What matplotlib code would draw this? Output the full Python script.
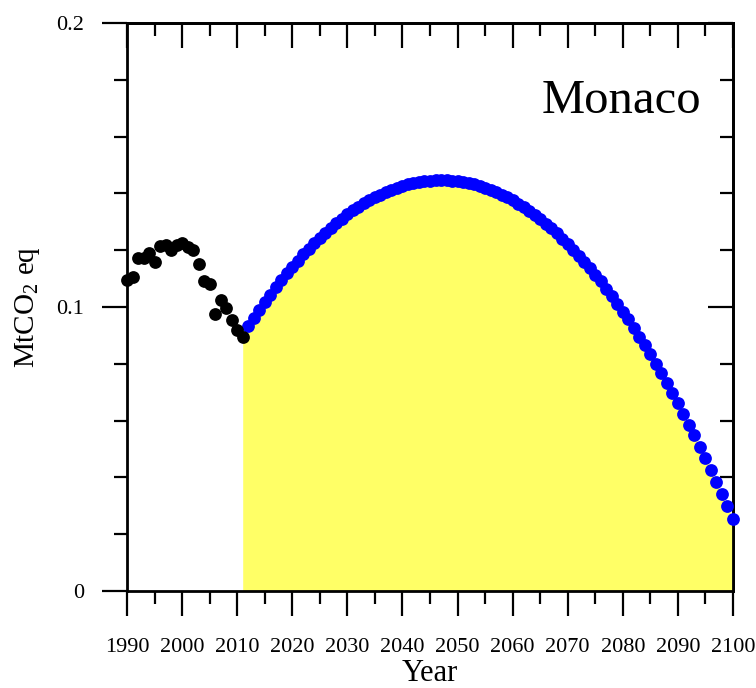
import matplotlib
matplotlib.use("Agg")
import matplotlib.pyplot as plt
from matplotlib.ticker import MultipleLocator

# Data
# ---------------------------
hist_years = list(range(1990, 2012))
hist_vals = [0.1095, 0.1106, 0.1173, 0.1173, 0.1190, 0.1160, 0.1215, 0.1220,
             0.1200, 0.1220, 0.1225, 0.1210, 0.1200, 0.1150, 0.1090, 0.1080,
             0.0975, 0.1025, 0.0996, 0.0954, 0.0920, 0.0894]

proj_years = list(range(2012, 2101))
proj_vals = [0.0933, 0.0962, 0.0990, 0.1017, 0.1043, 0.1069, 0.1094, 0.1118,
             0.1141, 0.1163, 0.1185, 0.1205, 0.1225, 0.1244, 0.1262, 0.1279,
             0.1295, 0.1311, 0.1326, 0.1340, 0.1353, 0.1365, 0.1376, 0.1387,
             0.1396, 0.1405, 0.1413, 0.1420, 0.1426, 0.1432, 0.1437, 0.1440,
             0.1443, 0.1445, 0.1447, 0.1447,
             0.1447, 0.1445, 0.1443, 0.1440, 0.1436, 0.1432, 0.1426, 0.1420,
             0.1413, 0.1405, 0.1396, 0.1386, 0.1375, 0.1364, 0.1351, 0.1338,
             0.1324, 0.1309, 0.1294, 0.1277, 0.1260, 0.1241, 0.1222, 0.1202,
             0.1181, 0.1160, 0.1137, 0.1114, 0.1090, 0.1065, 0.1039, 0.1012,
             0.0984, 0.0956, 0.0926, 0.0896, 0.0865, 0.0833, 0.0801, 0.0767,
             0.0733, 0.0697, 0.0661, 0.0624, 0.0586, 0.0548, 0.0508, 0.0468,
             0.0427, 0.0385, 0.0342, 0.0298, 0.0253]

country = "Monaco"

plt.rcParams['font.family'] = ['Liberation Serif', 'DejaVu Serif']
plt.rcParams['mathtext.fontset'] = 'custom'
plt.rcParams['mathtext.rm'] = 'Liberation Serif'

fig = plt.figure(figsize=(7.56, 6.88), dpi=100)
ax = fig.add_axes([127 / 756, 97 / 688, 606 / 756, 568 / 688])

# yellow area under the projection (starts at the last historic point)
fill_x = [hist_years[-1]] + proj_years
fill_y = [hist_vals[-1]] + proj_vals
ax.fill_between(fill_x, 0, fill_y, color='#ffff66', lw=0, zorder=1)

ax.plot(proj_years, proj_vals, 'o', color='#0000ff', ms=9.2, mec='none',
        zorder=3, clip_on=False)
ax.plot(hist_years, hist_vals, 'o', color='black', ms=9.2, mec='none',
        zorder=4, clip_on=False)

ax.set_xlim(1990, 2100)
ax.set_ylim(0, 0.2)

# ticks
ax.xaxis.set_major_locator(MultipleLocator(10))
ax.xaxis.set_minor_locator(MultipleLocator(5))
ax.yaxis.set_minor_locator(MultipleLocator(0.02))
ax.set_yticks([0, 0.1, 0.2])
ax.set_yticklabels(['0', '0.1', '0.2'])
ax.tick_params(which='major', direction='out', length=18, width=1.6,
               labelsize=16, pad=13)
ax.tick_params(which='minor', direction='out', length=9.5, width=1.6)
ax.tick_params(axis='x', which='major', pad=16)

for s in ax.spines.values():
    s.set_linewidth(2)

# inward ticks on top and right
top = ax.secondary_xaxis('top')
top.xaxis.set_major_locator(MultipleLocator(10))
top.xaxis.set_minor_locator(MultipleLocator(5))
top.tick_params(which='major', direction='in', length=18, width=1.6, labeltop=False)
top.tick_params(which='minor', direction='in', length=9.5, width=1.6)
top.spines['top'].set_linewidth(2)

right = ax.secondary_yaxis('right')
right.yaxis.set_major_locator(MultipleLocator(0.1))
right.yaxis.set_minor_locator(MultipleLocator(0.02))
right.tick_params(which='major', direction='in', length=18, width=1.6, labelright=False)
right.tick_params(which='minor', direction='in', length=9.5, width=1.6)
right.spines['right'].set_linewidth(2)

ax.set_xlabel('Year', fontsize=22, labelpad=1)
ax.set_ylabel(r'MtCO$_2$ eq', fontsize=21, labelpad=10)

ax.text(0.947, 0.8415, country, transform=ax.transAxes, fontsize=35,
        ha='right', va='baseline')

fig.savefig('out.png', dpi=100)
